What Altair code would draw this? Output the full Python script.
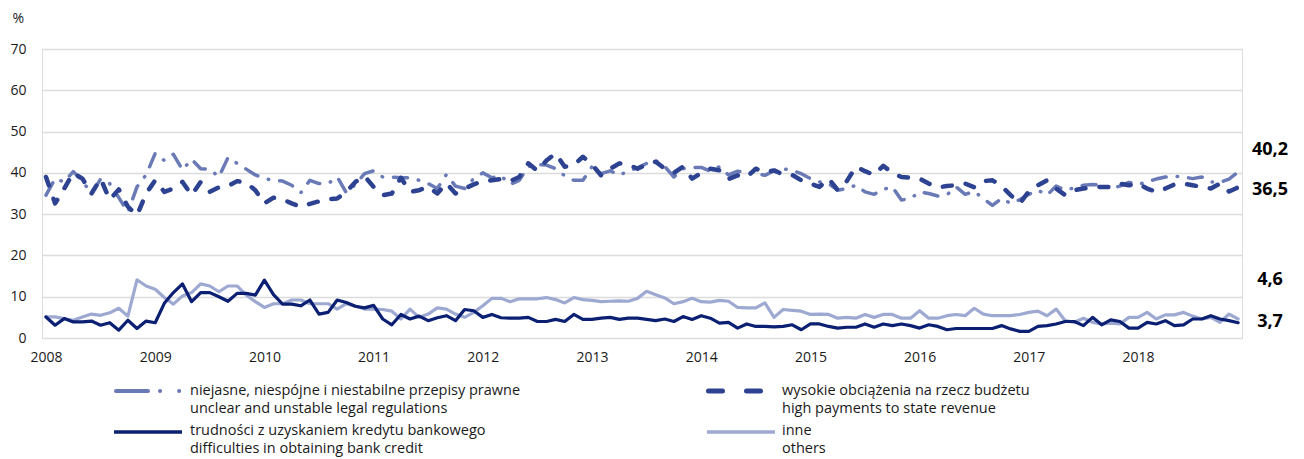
import altair as alt
import pandas as pd

FONT = "Open Sans"

years = list(range(2008, 2019))
y_ticks = [0, 10, 20, 30, 40, 50, 60, 70]

# monthly values Jan 2008 - Dec 2018 (%)
legal = [34.6, 38.6, 37.8, 40.3, 38.0, 35.0, 38.5, 37.4, 34.0, 30.5, 36.6, 39.5,
         44.7, 43.0, 44.5, 40.7, 43.3, 41.0, 40.9, 39.0, 43.7, 42.3, 40.9, 39.5,
         38.6, 38.2, 38.0, 37.0, 35.2, 38.2, 37.4, 37.4, 39.0, 35.2, 37.2, 39.8,
         40.5, 39.0, 39.0, 38.8, 38.8, 38.2, 37.4, 36.2, 39.6, 36.8, 36.2, 38.6,
         40.0, 38.8, 39.3, 37.2, 38.2, 41.5, 42.0, 41.9, 41.0, 39.3, 38.2, 38.2,
         41.5, 39.8, 40.5, 39.4, 40.5, 41.2, 42.3, 43.0, 41.5, 39.0, 41.0, 41.3,
         41.3, 40.4, 41.5, 39.5, 40.4, 40.2, 39.8, 39.4, 40.5, 41.0, 40.6, 39.8,
         38.6, 37.8, 37.4, 35.8, 36.2, 37.0, 35.4, 34.8, 36.0, 36.6, 33.4, 33.8,
         35.4, 35.0, 34.4, 34.7, 36.6, 34.8, 35.5, 33.8, 32.1, 33.8, 32.6, 33.5,
         34.8, 35.8, 34.6, 36.8, 35.8, 36.4, 37.0, 37.2, 37.0, 36.2, 36.8, 37.7,
         37.2, 37.8, 38.5, 39.0, 39.2, 39.0, 38.6, 39.0, 37.8, 37.7, 38.5, 40.2]

payments = [39.0, 32.6, 36.2, 40.0, 38.6, 35.0, 38.6, 33.5, 36.0, 31.8, 29.7, 35.0,
            38.2, 35.4, 36.2, 37.8, 34.6, 37.8, 35.4, 36.5, 36.8, 38.0, 37.6, 35.8,
            32.6, 34.0, 33.6, 32.6, 31.8, 32.5, 33.1, 33.6, 33.8, 35.4, 37.8, 39.2,
            36.6, 34.6, 35.0, 38.8, 35.4, 35.8, 36.6, 35.0, 37.5, 35.0, 36.2, 37.2,
            38.0, 38.2, 38.5, 38.0, 39.0, 42.3, 40.5, 43.0, 44.7, 41.5, 41.9, 43.9,
            42.0, 39.4, 41.0, 42.3, 42.0, 41.0, 42.0, 42.7, 41.0, 40.0, 41.5, 38.6,
            40.0, 41.0, 40.6, 38.5, 39.4, 39.0, 41.0, 40.2, 40.6, 39.6, 39.5, 38.2,
            37.4, 36.6, 38.6, 35.8, 38.0, 41.5, 40.4, 39.5, 41.7, 40.0, 39.0, 38.8,
            38.6, 37.4, 36.5, 36.8, 37.0, 37.4, 36.5, 38.0, 38.2, 36.8, 34.6, 32.6,
            35.5, 37.0, 38.2, 36.2, 34.6, 35.8, 36.2, 36.5, 36.6, 36.6, 37.4, 37.0,
            37.4, 36.2, 35.4, 36.2, 37.2, 37.4, 37.0, 36.6, 36.2, 37.4, 35.5, 36.5]

credit = [5.1, 3.1, 4.7, 3.9, 3.9, 4.1, 3.1, 3.7, 1.9, 4.3, 2.3, 4.1,
          3.7, 8.4, 11.0, 13.1, 8.8, 11.0, 11.0, 10.0, 8.9, 10.8, 10.8, 10.4,
          14.0, 10.5, 8.2, 8.2, 7.8, 9.2, 5.8, 6.2, 9.2, 8.6, 7.7, 7.3,
          7.9, 4.6, 3.2, 5.7, 4.6, 5.3, 4.2, 4.9, 5.4, 4.2, 6.9, 6.6,
          5.0, 5.7, 4.9, 4.8, 4.8, 5.0, 4.0, 4.0, 4.5, 4.0, 5.7, 4.5,
          4.5, 4.8, 5.0, 4.5, 4.8, 4.8, 4.5, 4.2, 4.6, 4.0, 5.2, 4.5,
          5.4, 4.8, 3.6, 3.8, 2.4, 3.4, 2.8, 2.8, 2.7, 2.8, 3.2, 2.0,
          3.4, 3.4, 2.8, 2.4, 2.6, 2.6, 3.4, 2.6, 3.4, 3.0, 3.4, 3.0,
          2.4, 3.2, 2.8, 2.0, 2.3, 2.3, 2.3, 2.3, 2.3, 3.0, 2.2, 1.6,
          1.6, 2.8, 3.0, 3.4, 4.0, 4.0, 3.0, 5.0, 3.2, 4.4, 4.0, 2.4,
          2.4, 3.8, 3.4, 4.2, 3.0, 3.2, 4.6, 4.6, 5.4, 4.6, 4.2, 3.7]

others = [5.1, 5.1, 4.7, 4.3, 5.1, 5.8, 5.5, 6.1, 7.2, 5.3, 14.1, 12.6,
          11.8, 9.8, 8.2, 10.2, 11.0, 13.1, 12.6, 11.2, 12.6, 12.6, 10.4, 8.8,
          7.4, 8.3, 8.3, 9.2, 9.2, 8.3, 8.3, 8.3, 7.0, 8.3, 7.7, 7.0,
          7.0, 6.9, 6.5, 4.6, 7.0, 5.0, 5.8, 7.3, 7.0, 5.8, 5.0, 6.2,
          7.8, 9.6, 9.6, 8.8, 9.5, 9.5, 9.5, 9.8, 9.3, 8.5, 9.8, 9.3,
          9.1, 8.8, 8.9, 9.0, 8.9, 9.6, 11.3, 10.5, 9.7, 8.3, 8.8, 9.6,
          8.8, 8.7, 9.1, 8.9, 7.4, 7.3, 7.3, 8.5, 5.0, 6.9, 6.7, 6.5,
          5.7, 5.8, 5.7, 4.8, 5.0, 4.8, 5.7, 5.0, 5.7, 5.7, 4.8, 4.8,
          6.6, 4.8, 4.8, 5.4, 5.7, 5.4, 7.2, 5.8, 5.4, 5.4, 5.4, 5.7,
          6.2, 6.5, 5.4, 7.0, 4.2, 3.8, 4.8, 3.8, 3.4, 3.6, 3.4, 5.0,
          5.0, 6.2, 4.6, 5.6, 5.6, 6.2, 5.3, 4.6, 5.0, 3.8, 5.8, 4.6]

names_pl = ["niejasne, niespójne i niestabilne przepisy prawne",
            "wysokie obciążenia na rzecz budżetu",
            "trudności z uzyskaniem kredytu bankowego",
            "inne"]
names_en = ["unclear and unstable legal regulations",
            "high payments to state revenue",
            "difficulties in obtaining bank credit",
            "others"]

C_LEGAL = "#6a7ab6"
C_PAY = "#2d4290"
C_CREDIT = "#0b1f73"
C_OTHER = "#9ea9d2"

n = len(credit)
df = pd.DataFrame({
    "t": [years[0] + i / 12 for i in range(n)],
    "legal": legal, "payments": payments, "credit": credit, "others": others,
})

X_SCALE = alt.Scale(domain=[years[0] - 0.0366, years[-1] + 0.952], nice=False, zero=False)
Y_SCALE = alt.Scale(domain=[0, 70], nice=False)

X_AXIS = alt.Axis(values=years, format="d", grid=False, domain=False, ticks=False,
                  labelPadding=12, labelFontSize=14, labelColor="#1a1a1a", labelFont=FONT,
                  labelFlush=False, labelOverlap=False, title=None)
Y_AXIS = alt.Axis(values=y_ticks, grid=True, gridColor="#dcdcdc", gridWidth=1.5,
                  domain=False, ticks=False, labelPadding=16, labelFontSize=14,
                  labelColor="#1a1a1a", labelFont=FONT,
                  title="%", titleAngle=0, titleX=-30, titleY=-31, titleAlign="left",
                  titleBaseline="middle", titleFontWeight="normal", titleFontSize=14,
                  titleFont=FONT, titleColor="#1a1a1a")

base = alt.Chart(df)


def line(field, color, width, dash=None):
    kw = dict(color=color, strokeWidth=width, strokeCap="round", strokeJoin="round")
    if dash:
        kw["strokeDash"] = dash
    return base.mark_line(**kw).encode(
        x=alt.X("t:Q", scale=X_SCALE, axis=X_AXIS),
        y=alt.Y(f"{field}:Q", scale=Y_SCALE, axis=Y_AXIS),
    )


layers = [
    line("others", C_OTHER, 3.2),
    line("credit", C_CREDIT, 3.2),
    line("legal", C_LEGAL, 3.5, [14, 11, 0.5, 11]),
    line("payments", C_PAY, 4.5, [9, 14]),
]


def end_label(val, dy):
    d = pd.DataFrame({"v": [val], "txt": [f"{val:.1f}".replace(".", ",")]})
    return alt.Chart(d).mark_text(fontSize=18, fontWeight="bold", font=FONT, color="#000",
                                  align="center", baseline="middle", dy=dy).encode(
        x=alt.value(1228), y=alt.Y("v:Q", scale=Y_SCALE, axis=Y_AXIS), text="txt:N")


layers += [end_label(legal[-1], -22), end_label(payments[-1], 3),
           end_label(others[-1], -39), end_label(credit[-1], -1)]

one = pd.DataFrame({"a": [0]})


def sym(x1, x2, y, color, width, dash=None, cap="butt"):
    kw = dict(color=color, strokeWidth=width, strokeCap=cap)
    if dash:
        kw["strokeDash"] = dash
    return alt.Chart(one).mark_rule(**kw).encode(
        x=alt.value(x1), x2=alt.value(x2), y=alt.value(y))


def txt(s, x, y):
    return alt.Chart(pd.DataFrame({"s": [s]})).mark_text(
        font=FONT, fontSize=14.5, color="#1a1a1a", align="left", baseline="middle").encode(
        x=alt.value(x), y=alt.value(y), text="s:N")


layers += [
    sym(74, 138, 342, C_LEGAL, 4, [32, 12, 0.1, 19, 0.1, 60], "round"),
    sym(666.5, 719, 342, C_PAY, 5, [14, 24], "round"),
    sym(72, 140, 383, C_CREDIT, 3.5),
    sym(665, 733, 383, C_OTHER, 3.5),
    txt(names_pl[0], 148, 342), txt(names_en[0], 148, 360),
    txt(names_pl[1], 740, 342), txt(names_en[1], 740, 360),
    txt(names_pl[2], 148, 382), txt(names_en[2], 148, 400),
    txt(names_pl[3], 740, 382), txt(names_en[3], 740, 400),
]

chart = alt.layer(*layers).properties(
    width=1200, height=289,
    autosize=alt.AutoSizeParams(type="none"),
    padding={"left": 34, "top": 41, "right": 54, "bottom": 120},
).configure_view(stroke=None).configure(background="white")

chart.save("out.html", embed_options={"renderer": "svg", "actions": False})
